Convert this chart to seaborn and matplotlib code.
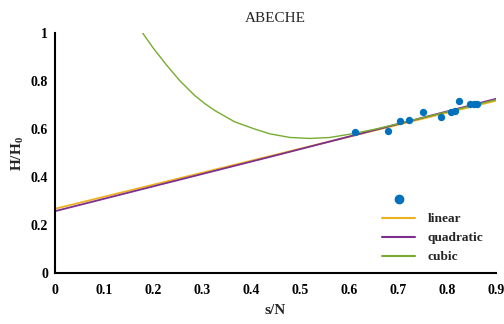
import numpy as np
import pandas as pd
import matplotlib
matplotlib.use("Agg")
import matplotlib.pyplot as plt
import seaborn as sns
from matplotlib.lines import Line2D

# data points
pts_x = [0.612, 0.680, 0.704, 0.722, 0.751, 0.787, 0.808, 0.816, 0.824, 0.848, 0.855, 0.861]
pts_y = [0.586, 0.593, 0.633, 0.638, 0.670, 0.650, 0.670, 0.675, 0.717, 0.703, 0.703, 0.703]

# fitted curves
lin_x = [0.0, 0.9]
lin_y = [0.268, 0.718]
quad_x = [0.0, 0.45, 0.9]
quad_y = [0.258, 0.490, 0.726]
cub_x = [0.179, 0.2006, 0.228, 0.255, 0.2857, 0.306, 0.3265, 0.367, 0.408, 0.439, 0.480, 0.520, 0.561, 0.602,
         0.650, 0.700, 0.750, 0.800, 0.850, 0.900]
cub_y = [1.000, 0.9375, 0.866, 0.801, 0.739, 0.706, 0.677, 0.630, 0.600, 0.580, 0.565, 0.561, 0.565, 0.579,
         0.598, 0.622, 0.647, 0.672, 0.697, 0.722]

xticks = [0, 0.1, 0.2, 0.3, 0.4, 0.5, 0.6, 0.7, 0.8, 0.9]
xtick_labels = ["0", "0.1", "0.2", "0.3", "0.4", "0.5", "0.6", "0.7", "0.8", "0.9"]
yticks = [0, 0.2, 0.4, 0.6, 0.8, 1.0]
ytick_labels = ["0", "0.2", "0.4", "0.6", "0.8", "1"]

sns.set_style("white")
plt.rcParams['font.family'] = ['Liberation Serif', 'DejaVu Serif']
plt.rcParams['mathtext.fontset'] = 'custom'
plt.rcParams['mathtext.rm'] = 'Liberation Serif'
plt.rcParams['mathtext.bf'] = 'Liberation Serif:bold'

c_pts = "#0072BD"
c_lin = "#EDB120"
c_quad = "#7E2F8E"
c_cub = "#77AC30"

fig = plt.figure(figsize=(5.04, 3.24), dpi=100)
ax = fig.add_axes([0.109, 0.157, 0.875, 0.741])

sns.lineplot(x=lin_x, y=lin_y, ax=ax, color=c_lin, lw=1.3, sort=True)
sns.lineplot(x=quad_x, y=quad_y, ax=ax, color=c_quad, lw=1.3, sort=True)
sns.lineplot(x=cub_x, y=cub_y, ax=ax, color=c_cub, lw=1.0, sort=True)
sns.scatterplot(x=pts_x, y=pts_y, ax=ax, color=c_pts, s=28, marker='o', edgecolor=c_pts, linewidth=0, zorder=5)

ax.set_xlim(0, 0.9)
ax.set_ylim(0, 1)
ax.set_xticks(xticks)
ax.set_xticklabels(xtick_labels, fontweight='bold', fontsize=10)
ax.set_yticks(yticks)
ax.set_yticklabels(ytick_labels, fontweight='bold', fontsize=10)
ax.tick_params(direction='in', length=4, width=1, colors='black')
ax.tick_params(axis='x', pad=8)
ax.tick_params(axis='y', pad=5)
for s in ['top', 'right']:
    ax.spines[s].set_visible(False)
for s in ['left', 'bottom']:
    ax.spines[s].set_linewidth(1.5)
    ax.spines[s].set_color('black')

ax.set_title("ABECHE", fontsize=11, pad=8)
ax.set_xlabel("s/N", fontweight='bold', fontsize=11, labelpad=5)
ax.set_ylabel(r"$\mathbf{H/H_0}$", fontsize=11, labelpad=3)

handles = [
    Line2D([], [], color=c_pts, marker='o', ls='none', markersize=6),
    Line2D([], [], color=c_lin, lw=1.5),
    Line2D([], [], color=c_quad, lw=1.5),
    Line2D([], [], color=c_cub, lw=1.5),
]
labels = ["", "linear", "quadratic", "cubic"]
leg = ax.legend(handles, labels, loc='lower right', bbox_to_anchor=(0.998, -0.009), frameon=False,
                prop={'weight': 'bold', 'size': 9.6}, handlelength=2.5, handletextpad=0.9,
                labelspacing=0.5)

fig.savefig("out.png", dpi=100)
